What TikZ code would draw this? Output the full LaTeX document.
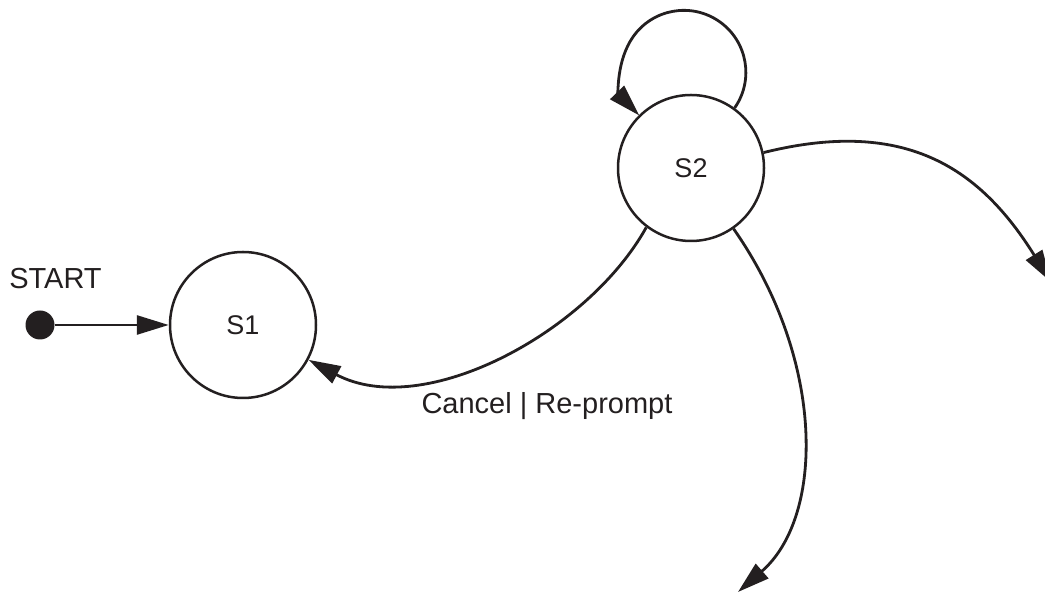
\documentclass[tikz,border=0pt]{standalone}
\usepackage{fontspec}
\setmainfont{Liberation Sans}
\usetikzlibrary{arrows.meta}
\definecolor{ink}{HTML}{231F20}
\begin{document}
\begin{tikzpicture}[x=1pt,y=1pt,
  state/.style={circle,draw=ink,line width=2.5pt,minimum size=146pt,inner sep=0pt,
    text=ink,font=\fontsize{27}{32}\selectfont},
  lbl/.style={text=ink,font=\fontsize{29}{34}\selectfont,inner sep=0pt,anchor=base},
  edge/.style={draw=ink,line width=2.8pt,-{Triangle[length=32pt,width=19pt]}},
  startdot/.style={circle,fill=ink,minimum size=29pt,inner sep=0pt}]
\useasboundingbox (0,0) rectangle (1045,594);
\node[startdot] (st) at (40,269) {};
\node[lbl] (stl) at (55.5,305) {START};
\node[state] (s1) at (243,269) {S1};
\node[state] (s2) at (691,426) {S2};
\coordinate (e3) at (738,2);
\coordinate (e4) at (1051,312);
\node[lbl] (cl) at (547,180) {Cancel | Re-prompt};
\draw[edge] (st) -- (s1);
\draw[edge] (s2.54) arc[start angle=-35,end angle=224,radius=62];
\draw[edge] (s2.233) .. controls +(241:120) and +(-28:130) .. (s1.332);
\draw[edge] (s2.305) .. controls +(-55:160) and +(41:115) .. (e3);
\draw[edge] (s2.12) .. controls +(14:150) and +(122:130) .. (e4);
\end{tikzpicture}
\end{document}
